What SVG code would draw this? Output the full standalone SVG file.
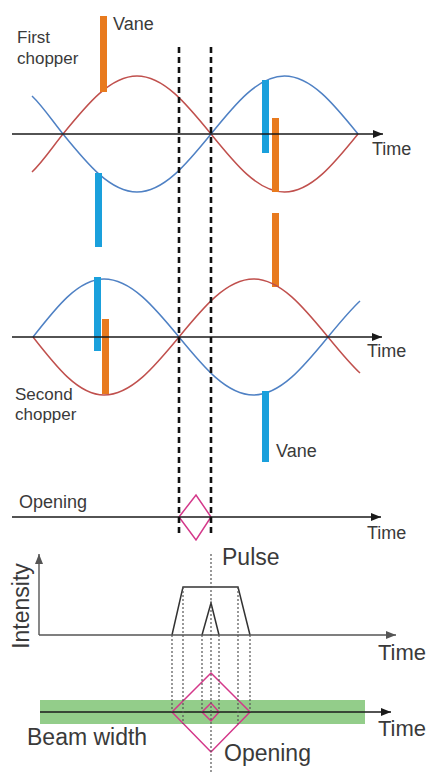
<svg xmlns="http://www.w3.org/2000/svg" width="428" height="772" viewBox="0 0 428 772">
<style>
.t{font-family:"Liberation Sans",Arial,sans-serif;fill:#3a3a3a;}
.s{font-size:18px;}
.c{font-size:17px;}
.b{font-size:23px;}
.ax{stroke:#1a1a1a;stroke-width:1.5;fill:none;}
.gax{stroke:#555;stroke-width:1.4;fill:none;}
.red{stroke:#c0504d;stroke-width:1.5;fill:none;}
.blu{stroke:#4f81c4;stroke-width:1.5;fill:none;}
.ov{fill:#e87a1e;}
.bv{fill:#1aa0dc;}
.dash{stroke:#111;stroke-width:2.6;stroke-dasharray:6 4;fill:none;}
.dot{stroke:#555;stroke-width:1.2;stroke-dasharray:2 2;fill:none;}
.mag{stroke:#d4388a;stroke-width:1.5;fill:none;}
.pl{stroke:#333;stroke-width:1.5;fill:none;}
</style>
<defs>
<marker id="ar" markerUnits="userSpaceOnUse" markerWidth="10" markerHeight="8" refX="10" refY="4" orient="auto">
<path d="M0,0 L10,4 L0,8 z" fill="#1a1a1a"/>
</marker>
<marker id="arg" markerUnits="userSpaceOnUse" markerWidth="10" markerHeight="8" refX="10" refY="4" orient="auto">
<path d="M0,0 L10,4 L0,8 z" fill="#555"/>
</marker>
</defs>
<rect width="428" height="772" fill="#ffffff"/>

<g id="beam-band">
<rect x="40" y="700" width="325" height="24" fill="#93cd8a"/>
</g>

<g id="first-chopper">
<path class="red" d="M32,172 C42.3,162.3 52.7,146.7 63,134 C87.1,104.3 110.3,76 137,76 C163.7,76 186.9,104.3 211,134 C235,163.7 257.9,192 284.5,192 C311.1,192 334,163.7 358,134"/>
<path class="blu" d="M32,96 C42.3,105.7 52.7,121.3 63,134 C87.1,163.7 110.3,192 137,192 C163.7,192 186.9,163.7 211,134 C235,104.3 257.9,76 284.5,76 C311.1,76 334,104.3 358,134"/>
<rect class="ov" x="100" y="16" width="7" height="76"/>
<rect class="bv" x="95" y="173" width="7" height="74"/>
<rect class="bv" x="262" y="80" width="7" height="73"/>
<rect class="ov" x="272" y="118" width="7" height="74"/>
<rect class="ov" x="272" y="213" width="7" height="74"/>
<text class="t c" x="17" y="43">First</text>
<text class="t c" x="17" y="63.5">chopper</text>
<text class="t s" x="113" y="30">Vane</text>
</g>

<g id="second-chopper">
<path class="blu" d="M33,337 C56.2,307.3 78.3,279 104,279 C131.1,279 154.5,307.3 179,337 C203.3,366.7 226.6,395 253.5,395 C280.4,395 303.7,366.7 328,337 C338.7,324 349.3,311 360,301"/>
<path class="red" d="M33,337 C56.2,366.7 78.3,395 104,395 C131.1,395 154.5,366.7 179,337 C203.3,307.3 226.6,279 253.5,279 C280.4,279 303.7,307.3 328,337 C338.7,350 349.3,363 360,373"/>
<rect class="bv" x="94" y="277" width="7" height="74"/>
<rect class="ov" x="102" y="319" width="7" height="75"/>
<rect class="bv" x="262" y="391" width="7" height="71"/>
<text class="t c" x="15" y="399.5">Second</text>
<text class="t c" x="15" y="420">chopper</text>
<text class="t s" x="276" y="457">Vane</text>
</g>

<g id="opening-top">
<polygon class="mag" points="179,517 196,495 211,517 196,540"/>
<text class="t s" x="19" y="508">Opening</text>
</g>

<g id="pulse">
<polyline class="pl" points="172,635 183,587 238,587 250,635"/>
<polyline class="pl" points="202,635 211,603 219,635"/>
<text class="t b" x="222" y="565">Pulse</text>
<text class="t b" transform="translate(29,606) rotate(-90)" text-anchor="middle">Intensity</text>
</g>

<g id="opening-bottom">
<polygon class="mag" points="172,712 211,673 250,712 211,752"/>
<polygon class="mag" points="202,712 211,703 219,712 211,721"/>
<text class="t b" x="27" y="745">Beam width</text>
<text class="t b" x="224" y="761">Opening</text>
</g>

<g id="connectors">
<line class="ax" x1="12" y1="134" x2="383" y2="134" marker-end="url(#ar)"/>
<line class="ax" x1="12" y1="337" x2="382" y2="337" marker-end="url(#ar)"/>
<line class="ax" x1="12" y1="517" x2="381" y2="517" marker-end="url(#ar)"/>
<line class="gax" x1="39" y1="635" x2="396" y2="635" marker-end="url(#arg)"/>
<line class="gax" x1="39" y1="635" x2="39" y2="554" marker-end="url(#arg)"/>
<line class="ax" x1="40" y1="712" x2="391" y2="712" stroke="#333" marker-end="url(#ar)"/>
<line class="dash" x1="179" y1="47" x2="179" y2="536"/>
<line class="dash" x1="211" y1="47" x2="211" y2="536"/>
<line class="dot" x1="211" y1="554" x2="211" y2="772"/>
<line class="dot" x1="172" y1="635" x2="172" y2="712"/>
<line class="dot" x1="250" y1="635" x2="250" y2="712"/>
<line class="dot" x1="183" y1="587" x2="183" y2="724"/>
<line class="dot" x1="238" y1="587" x2="238" y2="724"/>
<line class="dot" x1="202" y1="635" x2="202" y2="712"/>
<line class="dot" x1="219" y1="635" x2="219" y2="712"/>
</g>

<g id="axis-labels">
<text class="t s" x="372" y="155">Time</text>
<text class="t s" x="367" y="357">Time</text>
<text class="t s" x="367" y="539">Time</text>
<text class="t" style="font-size:22px" x="378" y="660">Time</text>
<text class="t" style="font-size:22px" x="378" y="736">Time</text>
</g>
</svg>
